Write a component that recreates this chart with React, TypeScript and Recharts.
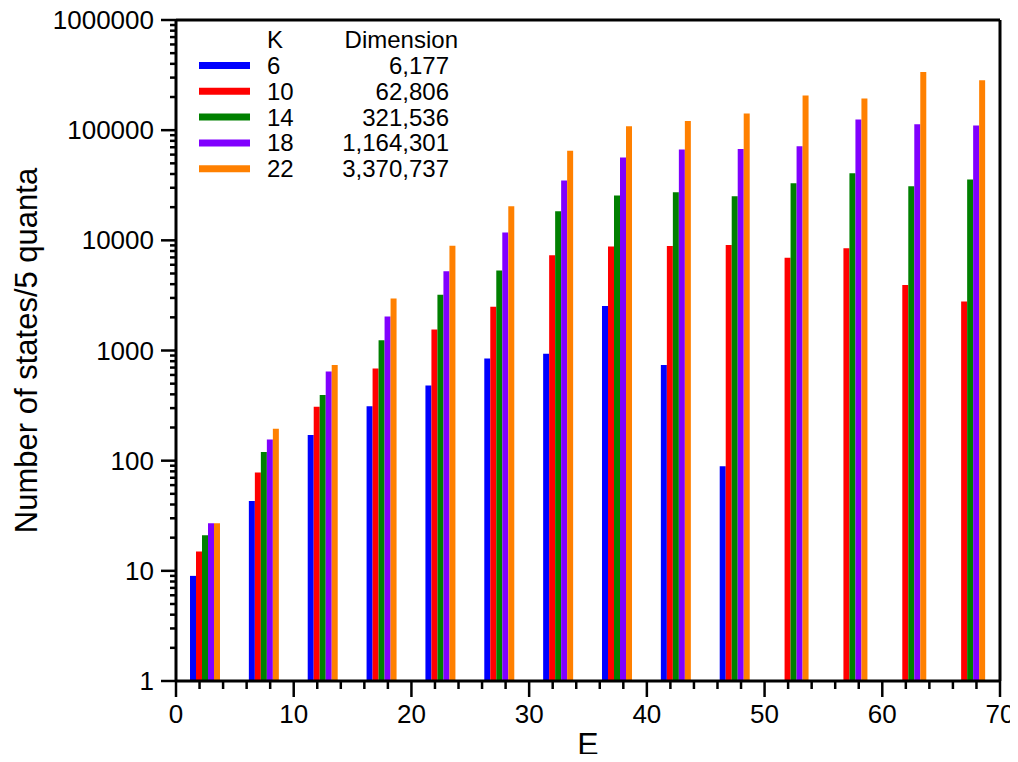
import { Bar, BarChart, Legend, ReferenceLine, XAxis, YAxis } from "recharts";

// centre of each 5-quanta energy window
const ENERGY = [2.5, 7.5, 12.5, 17.5, 22.5, 27.5, 32.5, 37.5, 42.5, 47.5, 52.5, 57.5, 62.5, 67.5];

const K_LABELS = ["6", "10", "14", "18", "22"];
const DIMENSIONS = ["6,177", "62,806", "321,536", "1,164,301", "3,370,737"];
const COLORS = ["#0000ff", "#ff0000", "#008000", "#8000ff", "#ff8000"];

const K6 = [9, 43, 171, 312, 480, 845, 933, 2540, 740, 89, null, null, null, null];
const K10 = [15, 78, 308, 686, 1550, 2500, 7320, 8790, 8860, 9060, 6950, 8460, 3930, 2790];
const K14 = [21, 120, 395, 1236, 3200, 5330, 18400, 25500, 27300, 25100, 33000, 40700, 31000, 35600];
const K18 = [27, 156, 645, 2040, 5230, 11800, 35000, 56500, 66600, 67400, 71500, 125000, 113000, 110000];
const K22 = [27, 195, 740, 2960, 8920, 20400, 65100, 108700, 121000, 142000, 206000, 194000, 337000, 284000];

const Y_MAJOR = [1, 10, 100, 1000, 10000, 100000, 1000000];
const X_TICKS = [0, 2, 4, 6, 8, 10, 12, 14, 16, 18, 20, 22, 24, 26, 28, 30, 32, 34, 36, 38, 40, 42, 44, 46, 48, 50, 52, 54, 56, 58, 60, 62, 64, 66, 68, 70];

const SERIES = [K6, K10, K14, K18, K22];
const KEYS = ["k6", "k10", "k14", "k18", "k22"];

const data = ENERGY.map((e, i) => {
  const row: Record<string, number | null> = { e };
  KEYS.forEach((key, s) => {
    row[key] = SERIES[s][i];
  });
  return row;
});

// log axis ticks: 1..9 in every decade, labels only on the decades
const yTicks: number[] = [];
Y_MAJOR.forEach((d, i) => {
  if (i === Y_MAJOR.length - 1) {
    yTicks.push(d);
    return;
  }
  for (let m = 1; m <= 9; m++) yTicks.push(d * m);
});

const FONT = "'Liberation Sans', Arial, Helvetica, sans-serif";

function YTick(props: any) {
  const { x, y, payload } = props;
  const major = Y_MAJOR.includes(payload.value);
  return (
    <g>
      <line x1={x - (major ? 15 : 6)} x2={x} y1={y} y2={y} stroke="#000" strokeWidth={2.5} />
      {major && (
        <text x={x - 22} y={y} dy={9} textAnchor="end" fontSize={26} fontFamily={FONT} fill="#000">
          {payload.value}
        </text>
      )}
    </g>
  );
}

function XTick(props: any) {
  const { x, y, payload } = props;
  const major = payload.value % 10 === 0;
  return (
    <g>
      <line x1={x} x2={x} y1={y} y2={y + (major ? 16 : 8)} stroke="#000" strokeWidth={2.5} />
      {major && (
        <text x={x} y={y + 42} textAnchor="middle" fontSize={26} fontFamily={FONT} fill="#000">
          {payload.value}
        </text>
      )}
    </g>
  );
}

function YTitle(props: any) {
  const { viewBox } = props;
  const cy = viewBox.y + viewBox.height / 2;
  return (
    <text
      transform={`translate(37, ${cy}) rotate(-90)`}
      textAnchor="middle"
      fontSize={31}
      fontFamily={FONT}
      fill="#000"
    >
      Number of states/5 quanta
    </text>
  );
}

function XTitle(props: any) {
  const { viewBox } = props;
  return (
    <text
      x={viewBox.x + viewBox.width / 2}
      y={viewBox.y + 74}
      textAnchor="middle"
      fontSize={32}
      fontFamily={FONT}
      fill="#000"
    >
      E
    </text>
  );
}

function KeyBox() {
  return (
    <svg width={500} height={200} style={{ fontFamily: FONT }}>
      <text x={267} y={48} fontSize={24}>K</text>
      <text x={458} y={48} fontSize={24} textAnchor="end">Dimension</text>
      {K_LABELS.map((k, i) => {
        const base = 74 + i * 25.8;
        return (
          <g key={k}>
            <line x1={199} x2={250} y1={base - 8.5} y2={base - 8.5} stroke={COLORS[i]} strokeWidth={7} />
            <text x={267} y={base} fontSize={24}>{k}</text>
            <text x={449} y={base} fontSize={24} textAnchor="end">{DIMENSIONS[i]}</text>
          </g>
        );
      })}
    </svg>
  );
}

export default function App() {
  return (
    <div style={{ fontFamily: FONT, margin: -8 }}>
      <BarChart
        width={1018}
        height={762}
        data={data}
        margin={{ top: 20, right: 18, bottom: 0, left: 0 }}
        barGap={0}
      >
        <XAxis
          dataKey="e"
          type="number"
          domain={[0, 70]}
          ticks={X_TICKS}
          interval={0}
          allowDataOverflow
          height={81}
          tickLine={false}
          tickSize={0}
          tickMargin={0}
          tick={<XTick />}
          axisLine={{ stroke: "#000", strokeWidth: 3 }}
          label={<XTitle />}
        />
        <YAxis
          type="number"
          scale="log"
          domain={[1, 1000000]}
          ticks={yTicks}
          interval={0}
          allowDataOverflow
          width={176}
          tickLine={false}
          tickSize={0}
          tickMargin={0}
          tick={<YTick />}
          axisLine={{ stroke: "#000", strokeWidth: 3 }}
          label={<YTitle />}
        />
        <ReferenceLine y={1000000} stroke="#000" strokeWidth={3} />
        <ReferenceLine x={70} stroke="#000" strokeWidth={3} />
        {KEYS.map((key, i) => (
          <Bar key={key} dataKey={key} name={`K=${K_LABELS[i]}`} fill={COLORS[i]} barSize={6} isAnimationActive={false} />
        ))}
        <Legend
          layout="horizontal"
          verticalAlign="middle"
          content={<KeyBox />}
          wrapperStyle={{ position: "absolute", left: 0, top: 0, width: 500, height: 200 }}
        />
      </BarChart>
    </div>
  );
}
